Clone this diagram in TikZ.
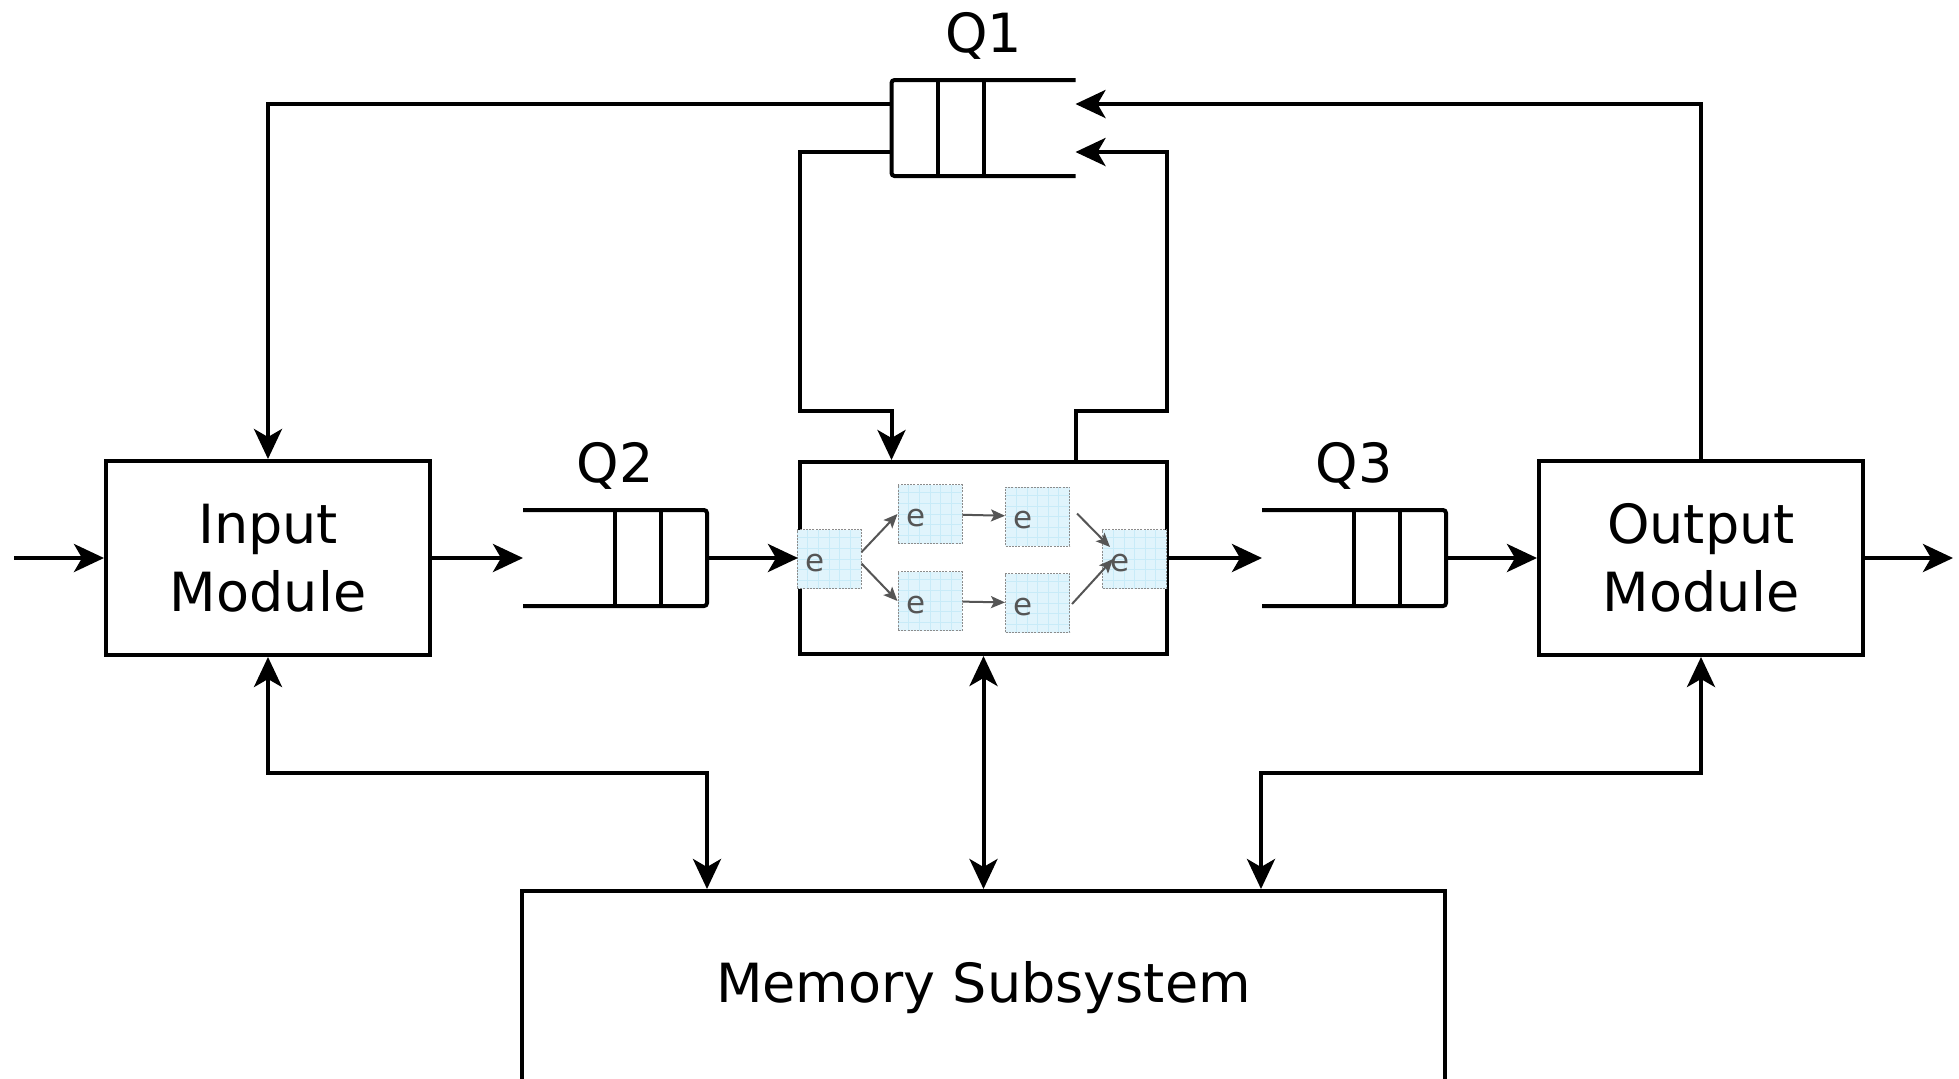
\documentclass[tikz,border=0pt]{standalone}
\usepackage{fontspec}
\setmainfont{DejaVu Sans}
\usetikzlibrary{arrows.meta,calc}

\definecolor{eboxfill}{HTML}{E0F4FC}
\definecolor{egridcol}{HTML}{C8EBF8}
\definecolor{eborder}{HTML}{8C8C8C}
\definecolor{elinecol}{HTML}{555555}

\newcommand\diagfont{\fontsize{27pt}{34pt}\selectfont}
\newcommand\efont{\fontsize{15.5pt}{18pt}\selectfont}

\begin{document}
\begin{tikzpicture}[x=0.5pt, y=-0.5pt,
  tip/.tip={Stealth[length=15pt,width=14pt,inset=4pt]},
  flow/.style={line width=2pt, -tip},
  biflow/.style={line width=2pt, tip-tip},
  module/.style={draw, line width=2pt, fill=white, minimum width=162pt,
    minimum height=97pt, inner sep=0pt, align=center, font=\diagfont},
  procbox/.style={draw, line width=2pt, fill=white, minimum width=183.5pt,
    minimum height=96pt, inner sep=0pt},
  membox/.style={draw, line width=2pt, fill=white, minimum width=461.5pt,
    minimum height=97pt, inner sep=0pt, font=\diagfont},
  qarea/.style={minimum width=92pt, minimum height=48pt, inner sep=0pt, outer sep=0pt},
  qline/.style={line width=2pt, rounded corners=1.5pt},
  qlabel/.style={font=\diagfont, inner sep=0pt, anchor=base},
  ebox/.style={draw=eborder, line width=0.5pt, dash pattern=on 1pt off 0.6pt,
    fill=eboxfill, minimum width=32pt, minimum height=29.5pt, inner sep=0pt,
    path picture={\draw[egridcol, line width=0.35pt, solid, step=5.33pt]
      (path picture bounding box.south west) grid (path picture bounding box.north east);},
    label={[font=\efont, text=elinecol, inner sep=0pt, xshift=-7pt, yshift=-2pt]center:e}},
  earrow/.style={draw=elinecol, line width=1pt, -{Stealth[length=7pt,width=6pt,inset=1.5pt]}}
]
\useasboundingbox (0,0) rectangle (1959,1078);
\clip (0,0) rectangle (1959,1078);

% main blocks
\node[module] (inmod) at (268,558) {Input\\Module};
\node[module] (outmod) at (1701,558) {Output\\Module};
\node[procbox] (proc) at (983.5,558) {};
\node[membox] (mem) at (983.5,988) {Memory Subsystem};

% queues
\node[qarea] (q1) at (983.5,128) {};
\node[qarea] (q2) at (615,558) {};
\node[qarea] (q3) at (1354,558) {};

% Q1: closed end on the left
\draw[qline] (q1.north east) -- (q1.north west) -- (q1.south west) -- (q1.south east);
\foreach \d in {23pt,46pt}
  \draw[line width=2pt] ([xshift=\d]q1.north west) -- ([xshift=\d]q1.south west);
% Q2 and Q3: closed end on the right
\foreach \q in {q2,q3}{
  \draw[qline] (\q.north west) -- (\q.north east) -- (\q.south east) -- (\q.south west);
  \foreach \d in {23pt,46pt}
    \draw[line width=2pt] ([xshift=-\d]\q.north east) -- ([xshift=-\d]\q.south east);
}
\node[qlabel] (q1lab) at ([yshift=14pt]q1.north) {Q1};
\node[qlabel] (q2lab) at ([yshift=14pt]q2.north) {Q2};
\node[qlabel] (q3lab) at ([yshift=14pt]q3.north) {Q3};

% processing elements inside the central block
\node[ebox] (e0) at (829,559) {};
\node[ebox] (e1) at (930,514) {};
\node[ebox] (e2) at (1037.5,516.5) {};
\node[ebox] (e3) at (930,601) {};
\node[ebox] (e4) at (1037.5,603) {};
\node[ebox] (e5) at (1134.5,559) {};
\draw[earrow] (e0.12) -- (e1.west);
\draw[earrow] (e0.-8) -- (e3.west);
\draw[earrow] (e1) -- (e2);
\draw[earrow] (e3) -- (e4);
\draw[earrow] ([shift={(7,-3)}]e2.east) -- ([shift={(8,-12)}]e5.west);
\draw[earrow] ([shift={(2,1)}]e4.east) -- ([shift={(11,0)}]e5.west);

% main data path
\coordinate (src) at (14,558);
\coordinate (sink) at (1953,558);
\draw[flow] (src) -- (inmod.west);
\draw[flow] (inmod.east) -- (q2.west);
\draw[flow] (q2.east) -- (proc.west);
\draw[flow] (proc.east) -- (q3.west);
\draw[flow] (q3.east) -- (outmod.west);
\draw[flow] (outmod.east) -- (sink);

% feedback through Q1
\coordinate (q1L1) at ($(q1.north west)!0.25!(q1.south west)$);
\coordinate (q1L2) at ($(q1.north west)!0.75!(q1.south west)$);
\coordinate (q1R1) at ($(q1.north east)!0.25!(q1.south east)$);
\coordinate (q1R2) at ($(q1.north east)!0.75!(q1.south east)$);
\coordinate (loopL) at (800,411);
\coordinate (loopR) at (1167,411);
\draw[flow] (q1L1) -| (inmod.north);
\draw[flow] (q1L2) -| (loopL) -| (proc.north -| q1L2);
\draw[flow] (proc.north -| q1R2) |- (loopR) |- (q1R2);
\draw[flow] (outmod.north) |- (q1R1);

% memory accesses
\coordinate (busL) at (707,773);
\coordinate (busR) at (1261,773);
\draw[biflow] (inmod.south) |- (busL) -- (mem.north -| busL);
\draw[biflow] (proc.south) -- (mem.north);
\draw[biflow] (outmod.south) |- (busR) -- (mem.north -| busR);
\end{tikzpicture}
\end{document}
